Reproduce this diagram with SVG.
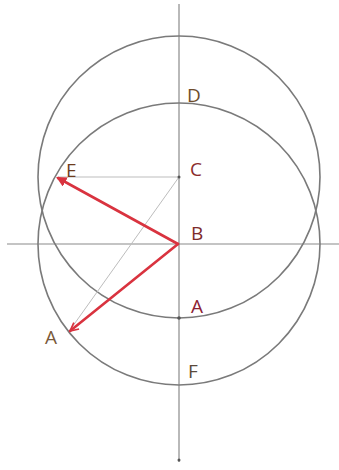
<svg xmlns="http://www.w3.org/2000/svg" width="339" height="470" viewBox="0 0 339 470">
<defs>
<style>
.curve{fill:none;stroke:#7a7a7a;stroke-width:1.6}
.axis{fill:none;stroke:#8a8a8a;stroke-width:1.2}
.guide{fill:none;stroke:#bdbdbd;stroke-width:1}
.vec{fill:none;stroke:#d9333f;stroke-width:2.6;stroke-linecap:round}
.lbl{font-family:"Open Sans","Noto Sans",sans-serif;font-size:19px}
.dot{fill:#555}
</style>
<marker id="arrFill" viewBox="0 0 10 10" refX="8" refY="5" markerWidth="4" markerHeight="4" orient="auto" markerUnits="strokeWidth">
<path d="M0,0 L10,5 L0,10 z" fill="#d9333f"/>
</marker>
<marker id="arrOpen" viewBox="0 0 10 10" refX="9" refY="5" markerWidth="4" markerHeight="4" orient="auto" markerUnits="strokeWidth">
<path d="M1,1 L9,5 L1,9" fill="none" stroke="#d9333f" stroke-width="1.6"/>
</marker>
</defs>
<rect width="339" height="470" fill="#ffffff"/>
<g id="axes">
<line class="axis" x1="179" y1="4" x2="179" y2="462"/>
<line class="axis" x1="7" y1="244" x2="339" y2="244"/>
<circle class="dot" cx="179" cy="460" r="1.5"/>
</g>
<g id="circle-C">
<circle class="curve" cx="179" cy="177" r="141"/>
</g>
<g id="circle-B">
<circle class="curve" cx="179" cy="244" r="141"/>
</g>
<g id="connectors">
<line class="guide" x1="179" y1="177" x2="58" y2="177"/>
<line class="guide" x1="179" y1="177" x2="70" y2="330"/>
<line class="vec" x1="178" y1="244" x2="58" y2="178" marker-end="url(#arrFill)"/>
<line class="vec" x1="178" y1="244" x2="70" y2="331" marker-end="url(#arrOpen)"/>
</g>
<g id="point-C"><circle class="dot" cx="179" cy="177" r="1.5"/><text class="lbl" x="190" y="176" fill="#8b2c2c">C</text></g>
<g id="point-D"><text class="lbl" x="187" y="102" fill="#6e4d2c">D</text></g>
<g id="point-B"><text class="lbl" x="191" y="240" fill="#7d2b2b">B</text></g>
<g id="point-A"><circle class="dot" cx="179" cy="318" r="1.8"/><text class="lbl" x="191" y="313" fill="#8c2233">A</text></g>
<g id="point-E"><text class="lbl" x="66" y="177" fill="#6e3c1e">E</text></g>
<g id="point-A2"><text class="lbl" x="45" y="344" fill="#7a5a3a">A</text></g>
<g id="point-F"><text class="lbl" x="188" y="378" fill="#5a4a3a">F</text></g>
</svg>
